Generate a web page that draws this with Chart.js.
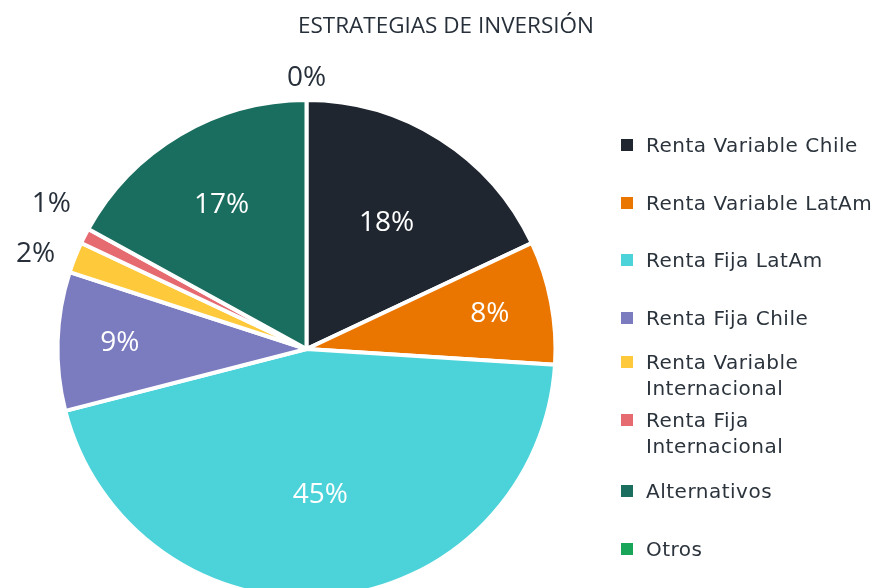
<!DOCTYPE html>
<html>
<head>
<meta charset="utf-8">
<script src="https://cdn.jsdelivr.net/npm/chart.js@4.4.0/dist/chart.umd.min.js"></script>
<style>
  html, body { margin: 0; padding: 0; background: #fff; overflow: hidden; }
  #wrap { position: relative; width: 881px; height: 588px; overflow: hidden; }
  #chart { position: absolute; left: 0; top: 0; }
  #title {
    position: absolute; left: 0; width: 892px; top: 9px; text-align: center;
    font-family: "Open Sans", sans-serif; font-size: 22.5px; color: #27303a;
  }
  #legend { position: absolute; left: 621px; top: 0; font-family: "DejaVu Sans", sans-serif; font-size: 20px; letter-spacing: 0.5px; color: #2b333c; }
  .item { position: absolute; left: 0; white-space: nowrap; line-height: 26px; }
  .box { position: absolute; left: 0; width: 12px; height: 12px; }
  .txt { position: absolute; left: 25px; }
</style>
</head>
<body>
<div id="wrap">
  <canvas id="chart" width="881" height="660"></canvas>
  <div id="title">ESTRATEGIAS DE INVERSIÓN</div>
  <div id="legend"></div>
</div>
<script>
// ---- data ----
const categories = [
  'Renta Variable Chile',
  'Renta Variable LatAm',
  'Renta Fija LatAm',
  'Renta Fija Chile',
  'Renta Variable Internacional',
  'Renta Fija Internacional',
  'Alternativos',
  'Otros'
];
const shares = [18, 8, 45, 9, 2, 1, 17, 0];
const legendLines = [
  ['Renta Variable Chile'],
  ['Renta Variable LatAm'],
  ['Renta Fija LatAm'],
  ['Renta Fija Chile'],
  ['Renta Variable', 'Internacional'],
  ['Renta Fija', 'Internacional'],
  ['Alternativos'],
  ['Otros']
];

// ---- styles ----
const colors = ['#1f2630', '#ea7600', '#4bd3d9', '#7b7bc0', '#ffc93c', '#e56b70', '#1a6e5f', '#18a55a'];
const labelRadius = [0.6, 0.75, 0.59, 0.75, 1.17, 1.15, 0.67, 1.09];
const labelNudgeY = [0, 0, 0, 0, 12, -15, 0, 0];
const legendTop = [145, 203, 260, 318, 362, 420, 491, 549];

// ---- legend (html) ----
const legend = document.getElementById('legend');
categories.forEach((c, i) => {
  const lines = legendLines[i];
  const item = document.createElement('div');
  item.className = 'item';
  item.style.top = (legendTop[i] - 13) + 'px';
  item.innerHTML = '<div class="box" style="top:7px;background:' + colors[i] + '"></div>' +
    '<div class="txt">' + lines.join('<br>') + '</div>';
  legend.appendChild(item);
});

// ---- percentage labels ----
const pctLabels = {
  id: 'pctLabels',
  afterDatasetsDraw(chart) {
    const ctx = chart.ctx;
    const meta = chart.getDatasetMeta(0);
    ctx.save();
    ctx.font = '28px "Open Sans", sans-serif';
    ctx.textAlign = 'center';
    ctx.textBaseline = 'middle';
    meta.data.forEach((arc, i) => {
      const mid = (arc.startAngle + arc.endAngle) / 2;
      const r = arc.outerRadius * labelRadius[i];
      const x = arc.x + Math.cos(mid) * r;
      const y = arc.y + Math.sin(mid) * r + labelNudgeY[i];
      ctx.fillStyle = labelRadius[i] > 1 ? '#27303a' : '#ffffff';
      ctx.fillText(shares[i] + '%', x, y);
    });
    ctx.restore();
  }
};

new Chart(document.getElementById('chart'), {
  type: 'pie',
  data: {
    labels: categories,
    datasets: [{
      data: shares,
      backgroundColor: colors,
      borderColor: '#ffffff',
      borderWidth: 4,
      radius: 249
    }]
  },
  options: {
    responsive: false,
    animation: false,
    layout: { padding: { left: 58, right: 326, top: 100, bottom: 62 } },
    plugins: {
      legend: { display: false },
      tooltip: { enabled: false },
      title: { display: false }
    }
  },
  plugins: [pctLabels]
});
</script>
</body>
</html>
